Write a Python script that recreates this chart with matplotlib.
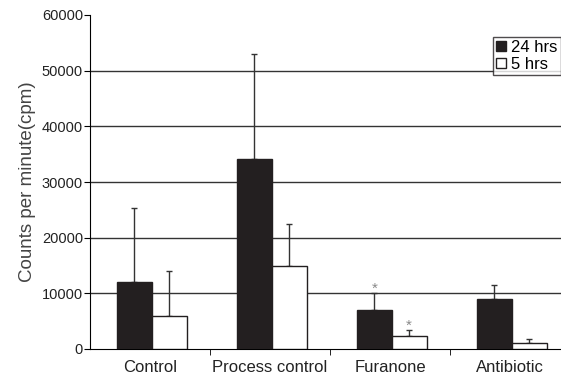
import numpy as np
import matplotlib
matplotlib.use('Agg')
import matplotlib.pyplot as plt

plt.rcParams['font.family'] = ['Liberation Sans', 'DejaVu Sans']

categories = ['Control', 'Process control', 'Furanone', 'Antibiotic']
hrs24 = [12000, 34200, 7000, 9000]
hrs24_err = [13300, 18800, 3000, 2500]
hrs5 = [6000, 15000, 2300, 1100]
hrs5_err = [8000, 7400, 1100, 700]
stars24 = [False, False, True, False]
stars5 = [False, False, True, False]

fig = plt.figure(figsize=(5.61, 3.79), dpi=100)
ax = fig.add_axes([90/561, 30/379, 471/561, 334/379])

x = np.arange(len(categories))
w = 0.29
off24, off5 = -0.13, 0.16
ax.bar(x + off24, hrs24, w, color='#231f20', edgecolor='#231f20', linewidth=1, label='24 hrs', zorder=3)
ax.bar(x + off5, hrs5, w, color='white', edgecolor='#231f20', linewidth=1, label='5 hrs', zorder=3)
ax.errorbar(x + off24, hrs24, yerr=[np.zeros(4), hrs24_err], fmt='none', ecolor='#333333',
            elinewidth=1, capsize=2.5, capthick=1, zorder=2)
ax.errorbar(x + off5, hrs5, yerr=[np.zeros(4), hrs5_err], fmt='none', ecolor='#333333',
            elinewidth=1, capsize=2.5, capthick=1, zorder=2)

for i in range(len(categories)):
    if stars24[i]:
        ax.text(x[i] + off24, hrs24[i] + hrs24_err[i] + 800, '*', ha='center', va='center',
                fontsize=11, color='#888888')
    if stars5[i]:
        ax.text(x[i] + off5, hrs5[i] + hrs5_err[i] + 800, '*', ha='center', va='center',
                fontsize=11, color='#888888')

ax.set_xlim(-0.5, 3.425)
ax.set_ylim(0, 60000)
ax.set_yticks(np.arange(0, 60001, 10000))
for yv in range(10000, 60000, 10000):
    ax.axhline(yv, color='#333333', linewidth=1, zorder=1)

ax.set_xticks(x)
ax.set_xticklabels(categories, fontsize=12, color='#222222')
ax.set_xticks([0.5, 1.5, 2.5], minor=True)
ax.tick_params(axis='x', which='major', length=0, pad=8)
ax.tick_params(axis='x', which='minor', length=4, direction='out')
ax.tick_params(axis='y', labelsize=10.5, length=4, direction='out', pad=1, labelcolor='#222222')

ax.spines['top'].set_visible(False)
ax.spines['right'].set_visible(False)
ax.set_ylabel('Counts per minute(cpm)', fontsize=13.5, color='#444444', labelpad=4)

leg = ax.legend(loc='upper right', bbox_to_anchor=(1.0, 0.935), fontsize=12, frameon=True, fancybox=False,
                edgecolor='#231f20', handlelength=0.6, handleheight=0.6, handletextpad=0.3,
                borderpad=0.2, labelspacing=0.1, borderaxespad=0)
leg.get_frame().set_linewidth(1)
leg.set_zorder(5)

fig.savefig('out.png', dpi=100)
